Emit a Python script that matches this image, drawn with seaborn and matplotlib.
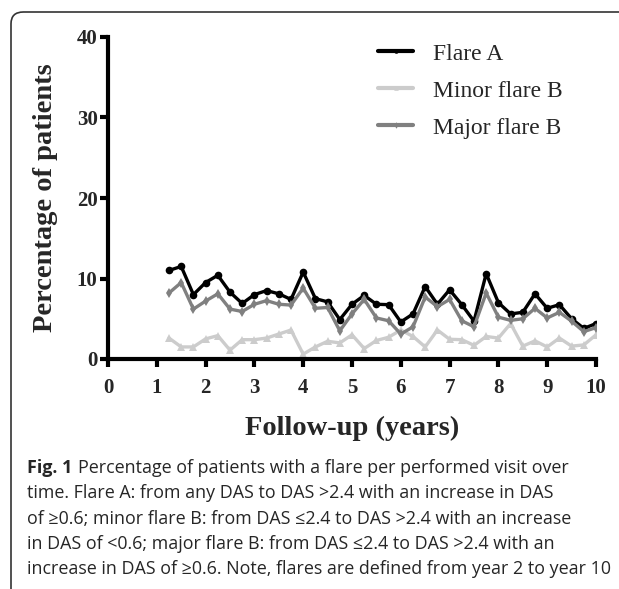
import matplotlib
matplotlib.use("Agg")
import matplotlib.pyplot as plt
import seaborn as sns
import pandas as pd
from matplotlib.patches import FancyBboxPatch

years = [1.25, 1.5, 1.75, 2.0, 2.25, 2.5, 2.75, 3.0, 3.25, 3.5, 3.75, 4.0,
         4.25, 4.5, 4.75, 5.0, 5.25, 5.5, 5.75, 6.0, 6.25, 6.5, 6.75, 7.0,
         7.25, 7.5, 7.75, 8.0, 8.25, 8.5, 8.75, 9.0, 9.25, 9.5, 9.75, 10.0]
flare_a = [11.0, 11.5, 8.0, 9.5, 10.4, 8.3, 6.9, 8.0, 8.5, 8.1, 7.4, 10.8,
           7.5, 7.1, 4.9, 6.8, 7.9, 6.8, 6.75, 4.6, 5.6, 9.0, 6.8, 8.6,
           6.75, 4.7, 10.6, 7.0, 5.6, 5.8, 8.1, 6.3, 6.75, 5.0, 3.8, 4.4]
minor_b = [2.6, 1.5, 1.5, 2.5, 2.9, 1.1, 2.4, 2.4, 2.6, 3.1, 3.6, 0.6,
           1.5, 2.2, 2.0, 3.0, 1.3, 2.3, 2.7, 3.6, 2.8, 1.5, 3.6, 2.45,
           2.4, 1.7, 2.8, 2.6, 4.4, 1.6, 2.25, 1.5, 2.6, 1.6, 1.75, 3.0]
major_b = [8.2, 9.5, 6.2, 7.2, 8.1, 6.2, 5.9, 6.8, 7.25, 6.8, 6.7, 8.8,
           6.3, 6.4, 3.5, 5.6, 7.4, 5.1, 4.75, 3.1, 4.0, 7.7, 6.5, 7.4,
           4.75, 4.0, 8.2, 5.2, 4.8, 5.0, 6.3, 5.1, 5.8, 4.7, 3.4, 3.9]
series_names = ["Flare A", "Minor flare B", "Major flare B"]
x_ticks = [0, 1, 2, 3, 4, 5, 6, 7, 8, 9, 10]
y_ticks = [0, 10, 20, 30, 40]

df = pd.DataFrame({
    "year": years * 3,
    "pct": flare_a + minor_b + major_b,
    "series": [series_names[0]] * len(years) + [series_names[1]] * len(years)
              + [series_names[2]] * len(years),
})

sns.set_style("white")
plt.rcParams["font.family"] = ["Liberation Serif", "DejaVu Serif"]

W, H = 619, 589
fig = plt.figure(figsize=(W / 100, H / 100), dpi=100)
ax = fig.add_axes([108 / W, 1 - 359 / H, (596 - 108) / W, (359 - 37) / H])

palette = {"Flare A": "#000000", "Minor flare B": "#cccccc", "Major flare B": "#808080"}
markers = {"Flare A": "o", "Minor flare B": "^", "Major flare B": "d"}
sns.lineplot(data=df, x="year", y="pct", hue="series", style="series",
             palette=palette, markers=markers, dashes=False, markersize=5.5,
             linewidth=2.4, markeredgewidth=0, ax=ax, legend=True)

ax.set_xlim(0, 10)
ax.set_ylim(0, 40)
ax.set_xticks(x_ticks)
ax.set_yticks(y_ticks)
ax.set_xticklabels([str(t) for t in x_ticks], fontsize=15, fontweight="bold")
ax.set_yticklabels([str(t) for t in y_ticks], fontsize=15, fontweight="bold")
for s in ["top", "right"]:
    ax.spines[s].set_visible(False)
for s in ["left", "bottom"]:
    ax.spines[s].set_linewidth(3)
    ax.spines[s].set_color("black")
    ax.spines[s].set_capstyle("projecting")
ax.tick_params(axis="x", which="major", length=6, width=3, color="black",
               direction="out", pad=8, bottom=True)
ax.tick_params(axis="y", which="major", length=6, width=3, color="black",
               direction="out", pad=1.5, left=True)
ax.set_xlabel("Follow-up (years)", fontsize=20.5, fontweight="bold", va="center")
ax.set_ylabel("Percentage of patients", fontsize=20.5, fontweight="bold", va="center")
ax.xaxis.set_label_coords(352.5 / W, 1 - 428 / H, transform=fig.transFigure)
ax.yaxis.set_label_coords(46 / W, 1 - 198 / H, transform=fig.transFigure)

leg = ax.legend(loc="upper left", bbox_to_anchor=(378 / W, 1 - 43 / H),
                bbox_transform=fig.transFigure, frameon=False, borderpad=0,
                borderaxespad=0, fontsize=17, handlelength=1.5,
                handletextpad=0.85, labelspacing=0.66, markerscale=0.6)
for line in leg.get_lines():
    line.set_linewidth(3)

# caption
cap_font = ["Open Sans", "DejaVu Sans"]
cap_size = 12.9
y0 = 1 - 468 / H
dy = 25.3 / H
t0 = fig.text(27 / W, y0, "Fig. 1", fontsize=cap_size, family=cap_font,
              fontweight="bold", va="center")
ax.annotate("Percentage of patients with a flare per performed visit over",
            xy=(1, 0.5), xycoords=t0, xytext=(4, 0), textcoords="offset points",
            fontsize=cap_size, family=cap_font, va="center", ha="left",
            annotation_clip=False)
cap_lines = [
    "time. Flare A: from any DAS to DAS >2.4 with an increase in DAS",
    "of \u22650.6; minor flare B: from DAS \u22642.4 to DAS >2.4 with an increase",
    "in DAS of <0.6; major flare B: from DAS \u22642.4 to DAS >2.4 with an",
    "increase in DAS of \u22650.6. Note, flares are defined from year 2 to year 10",
]
for i, ln in enumerate(cap_lines):
    fig.text(27 / W, y0 - (i + 1) * dy, ln, fontsize=cap_size,
             family=cap_font, va="center")

box = FancyBboxPatch((11 / W, -0.05), 1.2, 1.05 - 12 / H, transform=fig.transFigure,
                     boxstyle="round,pad=0,rounding_size=0.02", fill=False,
                     edgecolor="#333333", linewidth=1.2)
fig.patches.append(box)

fig.savefig("out.png", dpi=100)
